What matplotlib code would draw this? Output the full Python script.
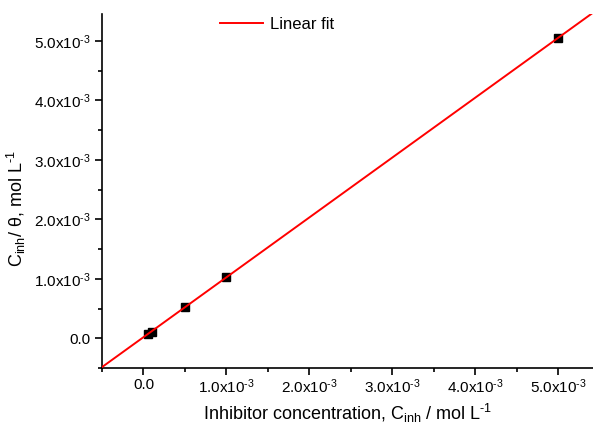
import numpy as np
import matplotlib
matplotlib.use('Agg')
import matplotlib.pyplot as plt
from matplotlib.ticker import MultipleLocator, FuncFormatter

plt.rcParams['font.family'] = ['Liberation Sans', 'DejaVu Sans']
plt.rcParams['mathtext.fontset'] = 'custom'
plt.rcParams['mathtext.rm'] = 'Liberation Sans'
plt.rcParams['mathtext.it'] = 'Liberation Sans:italic'
plt.rcParams['axes.unicode_minus'] = False

# inhibitor concentration (mol/L) and C/theta (mol/L)
c_inh = [0.05e-3, 0.1e-3, 0.5e-3, 1.0e-3, 5.0e-3]
c_theta = [0.08e-3, 0.105e-3, 0.52e-3, 1.035e-3, 5.05e-3]

slope, intercept = np.polyfit(c_inh, c_theta, 1)

fig = plt.figure(figsize=(5.93, 4.28), dpi=100)
ax = fig.add_axes([0.172, 0.140, 0.828, 0.827])

xlim = (-0.5e-3, 5.42e-3)
xx = np.array(xlim)
ax.plot(xx, slope * xx + intercept, color='red', lw=1.4, label='Linear fit', zorder=3)
ax.plot(c_inh, c_theta, 's', color='black', ms=6, zorder=2)

ax.set_xlim(xlim)
ax.set_ylim(-0.5e-3, 5.45e-3)

for s in ['top', 'right']:
    ax.spines[s].set_visible(False)
for s in ['left', 'bottom']:
    ax.spines[s].set_linewidth(1.2)

HY = '\u2010'

def fmt(v, pos):
    if abs(v) < 1e-9:
        return '0.0'
    return r'$\mathrm{%.1fx10^{%s3}}$' % (v * 1e3, HY)

ax.xaxis.set_major_locator(MultipleLocator(1e-3))
ax.xaxis.set_minor_locator(MultipleLocator(0.5e-3))
ax.yaxis.set_major_locator(MultipleLocator(1e-3))
ax.yaxis.set_minor_locator(MultipleLocator(0.5e-3))
ax.xaxis.set_major_formatter(FuncFormatter(fmt))
ax.yaxis.set_major_formatter(FuncFormatter(fmt))
ax.tick_params(which='major', direction='out', length=5, width=1.2, labelsize=11, colors='black')
ax.tick_params(which='minor', direction='out', length=3, width=1.2)
ax.tick_params(axis='x', pad=2)
ax.tick_params(axis='y', pad=3)

ax.set_xlabel(r'Inhibitor concentration, C$_{\mathrm{inh}}$ / mol L$^{\mathrm{%s1}}$' % HY, fontsize=13, labelpad=4)
ax.set_ylabel(r'C$_{\mathrm{inh}}$/ $\mathrm{\theta}$, mol L$^{\mathrm{%s1}}$' % HY, fontsize=13)
ax.yaxis.set_label_coords(-0.150, 0.45)

ax.legend(loc='upper left', bbox_to_anchor=(0.21, 1.035), frameon=False, fontsize=12,
          handlelength=2.6, handletextpad=0.4)

fig.savefig('out.png', dpi=100)
